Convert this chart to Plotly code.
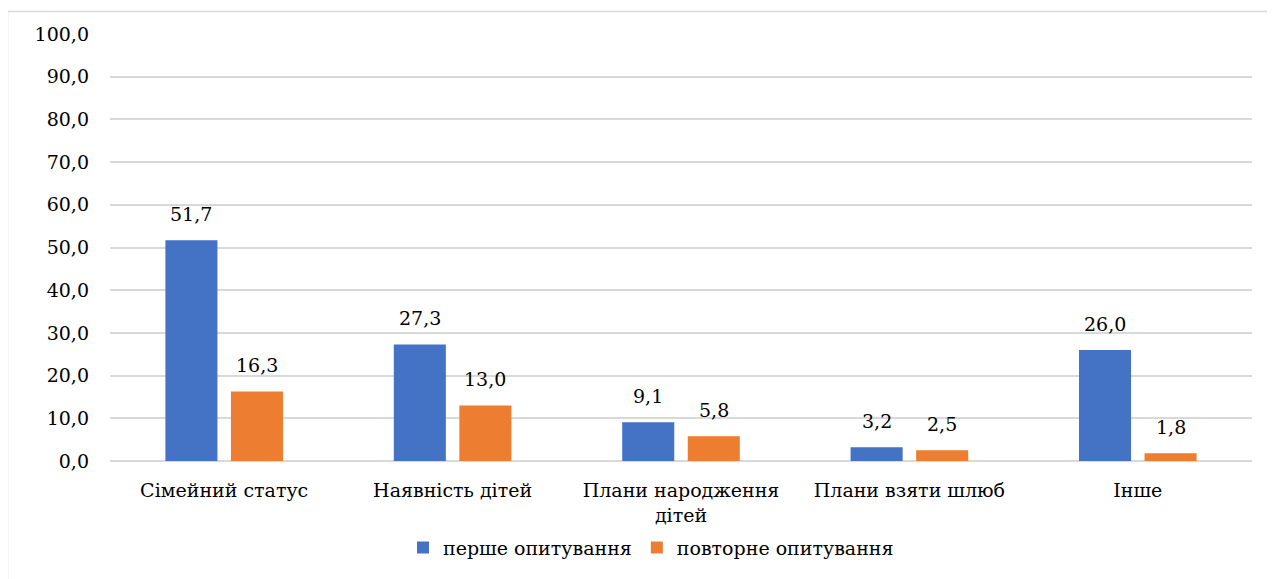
import plotly.graph_objects as go

categories = ["Сімейний статус", "Наявність дітей", "Плани народження<br>дітей", "Плани взяти шлюб", "Інше"]
first_survey = [51.7, 27.3, 9.1, 3.2, 26.0]
repeat_survey = [16.3, 13.0, 5.8, 2.5, 1.8]
series_names = ["перше опитування", "повторне опитування"]
y_ticks = [0, 10, 20, 30, 40, 50, 60, 70, 80, 90, 100]

FONT = "DejaVu Serif"
FS = 19
BARGAP = 0.426
BARGROUPGAP = 0.206

def fmt(v):
    return f"{v:.1f}".replace(".", ",")

fig = go.Figure()
fig.add_trace(go.Bar(
    x=categories, y=first_survey, name=series_names[0],
    marker=dict(color="#4472C4", line=dict(width=0)),
))
fig.add_trace(go.Bar(
    x=categories, y=repeat_survey, name=series_names[1],
    marker=dict(color="#ED7D31", line=dict(width=0)),
))

# data labels above each bar (positioned via the category axis)
slot = (1 - BARGAP) / 2
annotations = []
for i, (a, b) in enumerate(zip(first_survey, repeat_survey)):
    for val, off in ((a, -slot / 2), (b, slot / 2)):
        annotations.append(dict(x=i + off, y=val, xref="x", yref="y", text=fmt(val),
                                showarrow=False, yanchor="bottom", yshift=13,
                                font=dict(family=FONT, size=FS, color="#000000")))

OFF = 8  # page body margin
W, H = 1275 - OFF, 579 - OFF
L, T = 110 - OFF, 34 - OFF
R = (W + OFF) - 1252
B = (H + OFF) - 463
pw, ph = W - L - R, H - T - B

def px_x(x):
    return (x - OFF - L) / pw

def px_y(y):
    return (H - B - (y - OFF)) / ph

fig.update_layout(
    width=W, height=H,
    margin=dict(l=L, r=R, t=T, b=B),
    paper_bgcolor="white", plot_bgcolor="white",
    font=dict(family=FONT, size=FS, color="#000000"),
    barmode="group", bargap=BARGAP, bargroupgap=BARGROUPGAP,
    showlegend=True,
    legend=dict(orientation="h", x=px_x(651), xanchor="center", y=px_y(550), yanchor="middle",
                font=dict(family=FONT, size=FS), itemwidth=30, traceorder="normal",
                bgcolor="rgba(0,0,0,0)"),
    xaxis=dict(showgrid=False, showline=False, ticks="", ticklabelstandoff=16,
               tickfont=dict(family=FONT, size=FS)),
    yaxis=dict(range=[0, 100], tickvals=y_ticks, ticktext=[fmt(v) for v in y_ticks],
               showgrid=True, gridcolor="#D9D9D9", gridwidth=1.5, zeroline=True,
               zerolinecolor="#D9D9D9", zerolinewidth=1.5, showline=False,
               ticks="", ticklabelstandoff=20, tickfont=dict(family=FONT, size=FS)),
    annotations=annotations,
    shapes=[dict(type="rect", xref="paper", yref="paper",
                 x0=px_x(7.5), x1=px_x(1274), y0=px_y(600), y1=px_y(11.5),
                 line=dict(color="#D9D9D9", width=1.5), fillcolor="rgba(0,0,0,0)", layer="below")],
)

fig.write_html("out.html")
